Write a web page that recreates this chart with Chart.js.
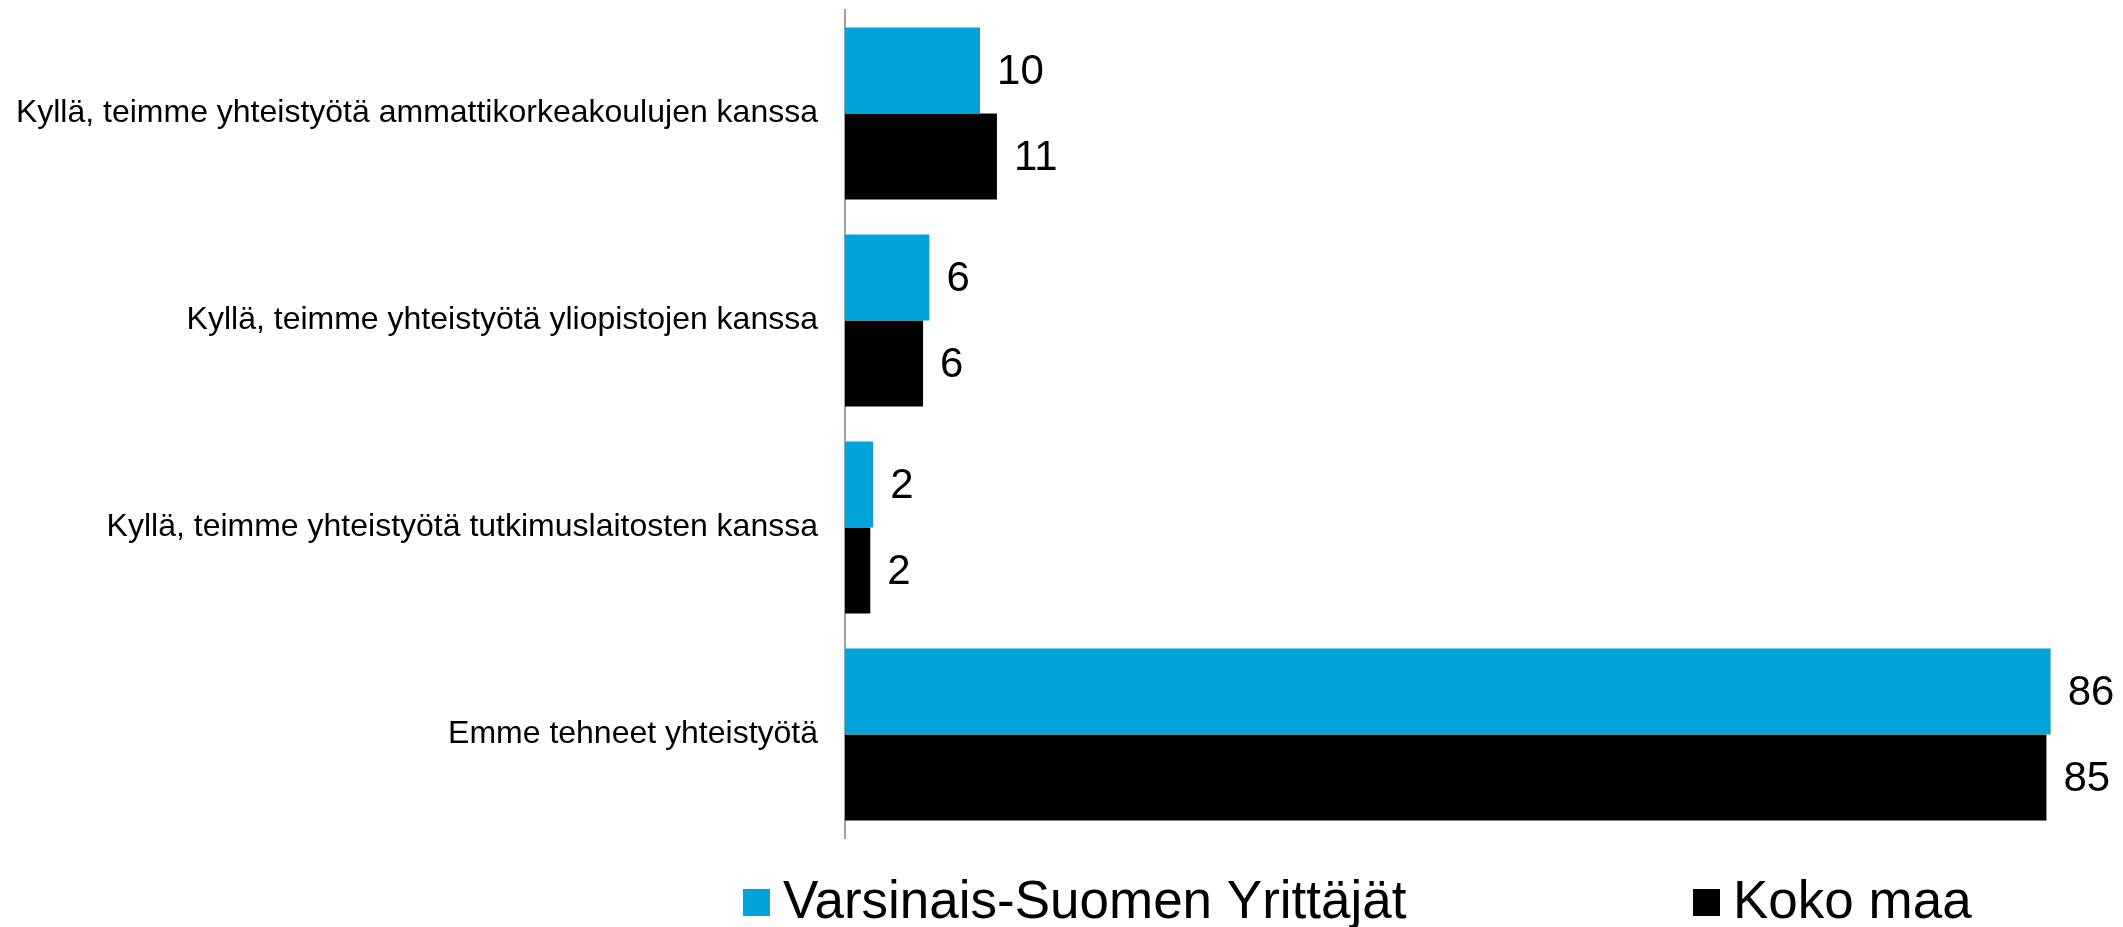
<!DOCTYPE html>
<html>
<head>
<meta charset="utf-8">
<script src="https://cdn.jsdelivr.net/npm/chart.js@4"></script>
<style>
  html, body { margin: 0; padding: 0; background: #fff; }
  #wrap { position: relative; width: 2123px; height: 927px; }
</style>
</head>
<body>
<div id="wrap"><canvas id="myChart" width="2123" height="927"></canvas></div>
<script>
var categories = [
    'Kyllä, teimme yhteistyötä ammattikorkeakoulujen kanssa',
    'Kyllä, teimme yhteistyötä yliopistojen kanssa',
    'Kyllä, teimme yhteistyötä tutkimuslaitosten kanssa',
    'Emme tehneet yhteistyötä'
];
var seriesNames = ['Varsinais-Suomen Yrittäjät', 'Koko maa'];
var varsinaisSuomi = [9.6, 6.0, 2.0, 85.7];
var kokoMaa = [10.8, 5.55, 1.8, 85.4];
var colors = ['#00A3DA', '#000000'];

var FONT = '"Liberation Sans", Arial, sans-serif';

// numbers at the end of each bar
var valueLabels = {
    id: 'valueLabels',
    afterDatasetsDraw: function (chart) {
        var ctx = chart.ctx;
        ctx.save();
        ctx.font = '42px ' + FONT;
        ctx.fillStyle = '#000';
        ctx.textAlign = 'left';
        ctx.textBaseline = 'middle';
        chart.data.datasets.forEach(function (ds, i) {
            var meta = chart.getDatasetMeta(i);
            meta.data.forEach(function (bar, j) {
                ctx.fillText(String(Math.round(ds.data[j])), bar.x + 17, bar.y + 2);
            });
        });
        ctx.restore();
    }
};

// legend at the bottom, two items spread apart
var bottomLegend = {
    id: 'bottomLegend',
    afterDraw: function (chart) {
        var ctx = chart.ctx;
        var starts = [743, 1693];
        ctx.save();
        ctx.font = '53px ' + FONT;
        ctx.textBaseline = 'alphabetic';
        chart.data.datasets.forEach(function (ds, i) {
            ctx.fillStyle = ds.backgroundColor;
            ctx.fillRect(starts[i], 889, 27, 27);
            ctx.fillStyle = '#000';
            ctx.fillText(ds.label, starts[i] + 40, 918);
        });
        ctx.restore();
    }
};

var ctx = document.getElementById('myChart').getContext('2d');
var myChart = new Chart(ctx, {
    type: 'bar',
    data: {
        labels: categories,
        datasets: [{
            label: seriesNames[0],
            data: varsinaisSuomi,
            backgroundColor: colors[0],
            barPercentage: 1,
            categoryPercentage: 0.831
        }, {
            label: seriesNames[1],
            data: kokoMaa,
            backgroundColor: colors[1],
            barPercentage: 1,
            categoryPercentage: 0.831
        }]
    },
    options: {
        indexAxis: 'y',
        responsive: false,
        animation: false,
        layout: { padding: { left: 0, right: 40, top: 10, bottom: 89 } },
        plugins: {
            legend: { display: false },
            tooltip: { enabled: false }
        },
        scales: {
            x: {
                display: false,
                min: 0,
                max: 88
            },
            y: {
                afterFit: function (scale) {
                    scale.width = 845;
                    scale.paddingTop = 0;
                    scale.paddingBottom = 0;
                },
                grid: { display: false, drawTicks: false },
                border: { display: true, color: '#a0a0a0', width: 2 },
                ticks: {
                    padding: 27,
                    color: '#000',
                    font: { family: FONT, size: 32 }
                }
            }
        }
    },
    plugins: [valueLabels, bottomLegend]
});
</script>
</body>
</html>
